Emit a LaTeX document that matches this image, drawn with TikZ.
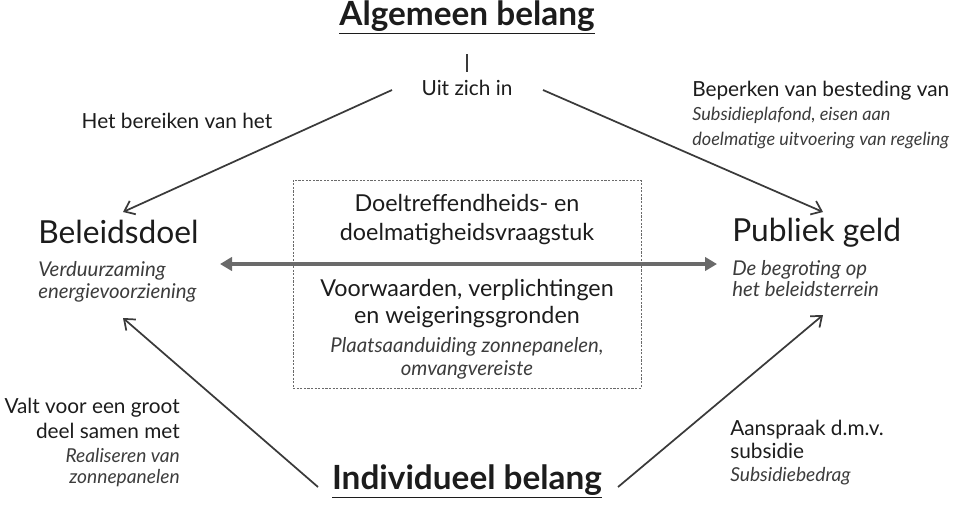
\documentclass[tikz,border=0pt]{standalone}
\usepackage{fontspec}
\setmainfont{Lato}
\usetikzlibrary{arrows.meta}
\definecolor{txt}{HTML}{1C1C1C}
\definecolor{itx}{HTML}{3C3C3C}
\definecolor{arr}{HTML}{3A3A3A}
\definecolor{mid}{HTML}{6A6A6A}
\begin{document}
\begin{tikzpicture}[x=0.75pt,y=-0.75pt,
  lbl/.style={inner sep=0pt,text=txt,text height=0.75em,text depth=0.22em},
  head/.style={lbl,font=\fontsize{25}{29}\selectfont\bfseries},
  big/.style={lbl,font=\fontsize{23.8}{27}\selectfont},
  boxt/.style={lbl,font=\fontsize{17.5}{20}\selectfont},
  small/.style={lbl,font=\fontsize{15.6}{18}\selectfont},
  ital/.style={lbl,text=itx,font=\fontsize{15.3}{18}\selectfont\itshape},
  itals/.style={lbl,text=itx,font=\fontsize{13.6}{16}\selectfont\itshape},
  italm/.style={lbl,text=itx,font=\fontsize{14.4}{17}\selectfont\itshape},
  conn/.style={draw=arr,line width=1.3pt,-{Straight Barb[length=7pt,width=11pt,line width=1.3pt]}},
  midarr/.style={draw=mid,line width=2.4pt,{Triangle[length=9pt,width=10pt]}-{Triangle[length=9pt,width=10pt]}}
]
\useasboundingbox (0,0) rectangle (959,504);
% headings
\node[head] (alg) at (467,22) {\underline{Algemeen belang}};
\node[head] (ind) at (467,486) {\underline{Individueel belang}};
\coordinate (t1) at (467,54);
\coordinate (t2) at (467,72);
\draw[arr,line width=1.3pt] (t1) -- (t2);
\node[small] (uit) at (467,92) {Uit zich in};
% left top label
\node[small] (hbv) at (177,125) {Het bereiken van het};
% Beleidsdoel
\node[big,anchor=west] (bel) at (38,240) {Beleidsdoel};
\node[ital,anchor=west] (bel1) at (38,273) {Verduurzaming};
\node[ital,anchor=west] (bel2) at (38,295) {energievoorziening};
% Publiek geld
\node[big,anchor=west] (pub) at (732,238) {Publiek geld};
\node[ital,anchor=west] (pub1) at (732,272) {De begroting op};
\node[ital,anchor=west] (pub2) at (732,293) {het beleidsterrein};
% Right top labels
\node[small,anchor=west] (bep) at (692,93) {Beperken van besteding van};
\node[itals,anchor=west] (bep1) at (692,117) {Subsidieplafond, eisen aan};
\node[itals,anchor=west] (bep2) at (692,142) {doelmatige uitvoering van regeling};
% Bottom-left labels
\node[small,anchor=east] (val1) at (180,410) {Valt voor een groot};
\node[small,anchor=east] (val2) at (180,435) {deel samen met};
\node[italm,anchor=east] (val3) at (180,459) {Realiseren van};
\node[italm,anchor=east] (val4) at (180,480) {zonnepanelen};
% Bottom-right labels
\node[small,anchor=west] (aan1) at (730,432) {Aanspraak d.m.v.};
\node[small,anchor=west] (aan2) at (730,455) {subsidie};
\node[italm,anchor=west] (aan3) at (730,478) {Subsidiebedrag};
% central box
\node[draw=mid,line width=0.7pt,dash pattern=on 1.6pt off 1.1pt,minimum width=348*0.75pt,minimum height=208*0.75pt,inner sep=0pt] (box) at (467,284) {};
\node[boxt] (d1) at (467,208) {Doeltreffendheids- en};
\node[boxt] (d2) at (467,237) {doelmatigheidsvraagstuk};
\node[boxt] (v1) at (467,293) {Voorwaarden, verplichtingen};
\node[boxt] (v2) at (467,320) {en weigeringsgronden};
\node[ital] (v3) at (467,349) {Plaatsaanduiding zonnepanelen,};
\node[ital] (v4) at (467,372) {omvangvereiste};
% connector coordinates
\coordinate (a1s) at (392,90);
\coordinate (a1e) at (123,212);
\coordinate (a2s) at (543,90);
\coordinate (a2e) at (823,212);
\coordinate (a3s) at (318,487);
\coordinate (a3e) at (123,318);
\coordinate (a4s) at (618,487);
\coordinate (a4e) at (823,315);
\coordinate (ml) at (220,264);
\coordinate (mr) at (717,264);
\draw[conn] (a1s) -- (a1e);
\draw[conn] (a2s) -- (a2e);
\draw[conn] (a3s) -- (a3e);
\draw[conn] (a4s) -- (a4e);
\draw[midarr] (ml) -- (mr);
\end{tikzpicture}
\end{document}
